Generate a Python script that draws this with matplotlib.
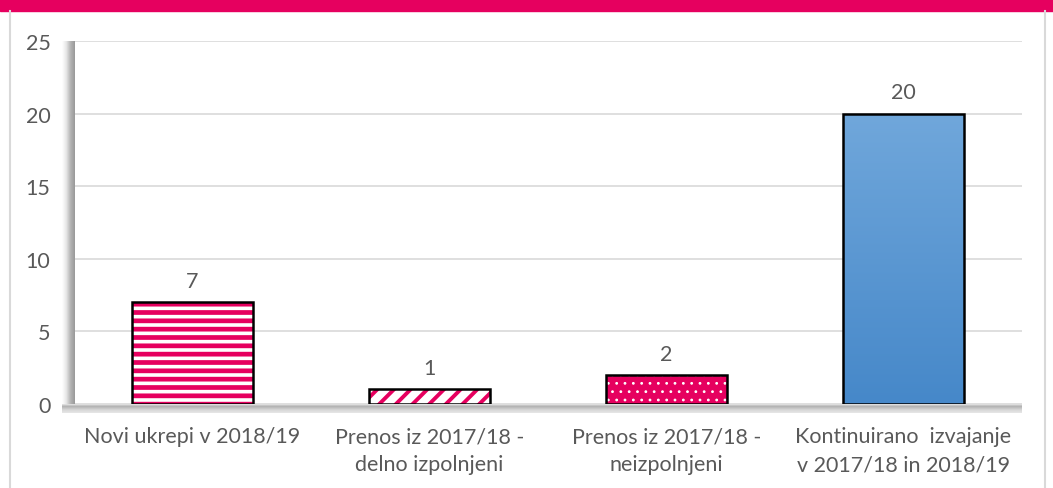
import matplotlib.pyplot as plt
import matplotlib.patches as mpatches
import matplotlib.colors as mcolors
import numpy as np

categories = ["Novi ukrepi v 2018/19",
              "Prenos iz 2017/18 -\ndelno izpolnjeni",
              "Prenos iz 2017/18 -\nneizpolnjeni",
              "Kontinuirano  izvajanje\nv 2017/18 in 2018/19"]
values = [7, 1, 2, 20]
yticks = [0, 5, 10, 15, 20, 25]

magenta = "#E6005F"
txt = "#595959"
fs = 15.5

plt.rcParams['font.family'] = ['Lato', 'DejaVu Sans']

fig = plt.figure(figsize=(10.53, 4.89), dpi=100)
ax = fig.add_axes([74/1053, 1 - 405/489, 948/1053, 363/489])

# top band and side borders
fig.patches.append(mpatches.Rectangle((0, 1 - 12/489), 1, 12/489, transform=fig.transFigure,
                                      color=magenta, zorder=0))
for xf in (10/1053, 1045/1053):
    fig.lines.append(plt.Line2D([xf, xf], [0, 1 - 12/489], transform=fig.transFigure,
                                color="#D9D9D9", lw=1.5))

x = np.arange(len(categories))
bars = ax.bar(x, values, width=0.51, edgecolor="black", linewidth=1.8, zorder=3)

styles = [("white", magenta, "--", 3.4),
          ("white", magenta, "//", 2.8),
          (magenta, "white", "..", 0.8)]
for b, (fc, hc, h, hl) in zip(bars, styles):
    b.set_facecolor(fc)
    b.set_hatch(h)
    b.set_edgecolor("black")
    b._hatch_color = mcolors.to_rgba(hc)
    b.set_hatch_linewidth(hl)

# gradient for last bar
blue = bars[3]
grad = np.linspace(0, 1, 100).reshape(-1, 1)
cmap = mcolors.LinearSegmentedColormap.from_list("b", ["#4688C9", "#70A7DB"])
im = ax.imshow(grad, cmap=cmap, origin="lower", aspect="auto", zorder=3.5,
               extent=[blue.get_x(), blue.get_x() + blue.get_width(), 0, blue.get_height()])
im.set_clip_path(blue)
blue.set_facecolor("none")
blue.set_zorder(4)

for b, v in zip(bars, values):
    ax.annotate(str(v), (b.get_x() + b.get_width() / 2, v), xytext=(0, 8),
                textcoords="offset points", ha="center", va="bottom", fontsize=fs, color=txt)

ax.set_xlim(-0.5, len(categories) - 0.5)
ax.set_ylim(0, 25)
ax.set_yticks(yticks)
ax.set_xticks(x)
ax.set_xticklabels(categories, fontsize=fs, color=txt, linespacing=1.5)
ax.tick_params(axis="y", length=0, pad=17, labelsize=fs, labelcolor=txt)
ax.tick_params(axis="x", length=0, pad=16)
ax.grid(axis="y", color="#D9D9D9", lw=1.2, zorder=0)
ax.set_axisbelow(True)
for s in ax.spines.values():
    s.set_visible(False)

# 3d-like wall and floor
wall = np.linspace(0, 1, 50).reshape(1, -1)
wcmap = mcolors.LinearSegmentedColormap.from_list("w", ["#FFFFFF", "#E6E6E6", "#B3B3B3", "#999999"])
wax = fig.add_axes([62/1053, 1 - 412/489, 12/1053, 370/489])
wax.imshow(wall, cmap=wcmap, aspect="auto")
wax.axis("off")
floor = np.linspace(0, 1, 50).reshape(-1, 1)
fcmap = mcolors.LinearSegmentedColormap.from_list("f", ["#FFFFFF", "#B0B0B0", "#D6D6D6", "#E6E6E6"])
flax = fig.add_axes([62/1053, 1 - 414/489, 960/1053, 9/489])
flax.imshow(floor, cmap=fcmap, aspect="auto")
flax.axis("off")

fig.savefig("out.png", dpi=100)
